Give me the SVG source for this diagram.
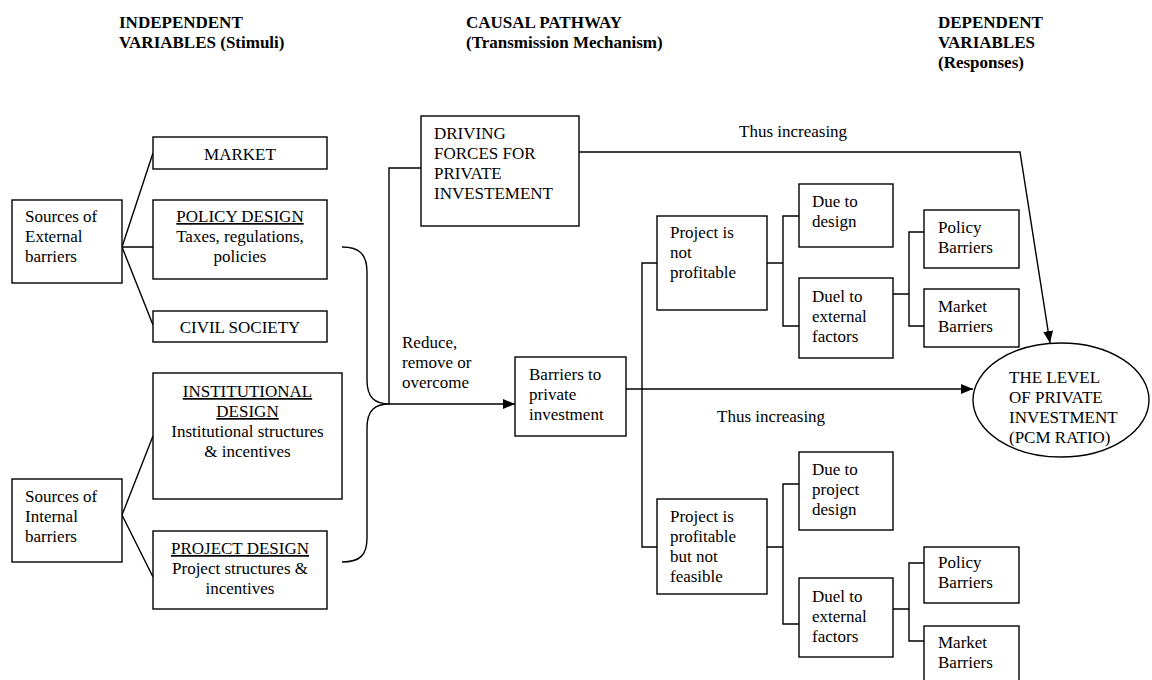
<svg xmlns="http://www.w3.org/2000/svg" width="1152" height="680" viewBox="0 0 1152 680">
<defs>
<style>
text{font-family:"Liberation Serif","Times New Roman",serif;font-size:17px;fill:#000}
.h{font-weight:bold}
.c{text-anchor:middle}
.u{text-decoration:underline}
.box{fill:#fff;stroke:#000;stroke-width:1.4}
.ln{fill:none;stroke:#000;stroke-width:1.4}
</style>
<marker id="ah" viewBox="0 0 12 10" refX="12" refY="5" markerWidth="12" markerHeight="10" markerUnits="userSpaceOnUse" orient="auto">
<path d="M0,0 L12,5 L0,10 Z" fill="#000"/>
</marker>
</defs>
<rect width="1152" height="680" fill="#fff"/>

<g id="headers">
<text class="h" x="119" y="28">INDEPENDENT</text>
<text class="h" x="119" y="48">VARIABLES (Stimuli)</text>
<text class="h" x="466" y="28">CAUSAL PATHWAY</text>
<text class="h" x="466" y="48">(Transmission Mechanism)</text>
<text class="h" x="938" y="28">DEPENDENT</text>
<text class="h" x="938" y="48">VARIABLES</text>
<text class="h" x="938" y="68">(Responses)</text>
</g>

<g id="connectors">
<path class="ln" d="M122,247 L153,153 M122,247 L153,247 M122,247 L153,325"/>
<path class="ln" d="M122,515 L153,436 M122,515 L153,577"/>
<path class="ln" d="M342,247 C360,247 367,255 367,272 L367,380 C367,398 375,404 390,404 C375,404 367,410 367,428 L367,538 C367,555 360,562 342,562"/>
<path class="ln" d="M389,404 L389,168 L421,168"/>
<path class="ln" d="M389,404 L515,404" marker-end="url(#ah)"/>
<path class="ln" d="M579,152 L1020,152 L1050,343" marker-end="url(#ah)"/>
<path class="ln" d="M626,389 L973,389" marker-end="url(#ah)"/>
<path class="ln" d="M657,263 L642,263 L642,547 L657,547"/>
<path class="ln" d="M767,263 L783,263 M799,216 L783,216 L783,326 L799,326"/>
<path class="ln" d="M893,294 L909,294 M924,232 L909,232 L909,326 L924,326"/>
<path class="ln" d="M767,547 L783,547 M799,484 L783,484 L783,624 L799,624"/>
<path class="ln" d="M893,609 L909,609 M924,563 L909,563 L909,641 L924,641"/>
<text x="739" y="137">Thus increasing</text>
<text x="717" y="422">Thus increasing</text>
<text x="402" y="348">Reduce,</text>
<text x="402" y="368">remove or</text>
<text x="402" y="388">overcome</text>
</g>

<g id="ext-sources">
<rect class="box" x="12" y="200" width="110" height="83"/>
<text x="25" y="222">Sources of</text>
<text x="25" y="242">External</text>
<text x="25" y="262">barriers</text>
</g>
<g id="market">
<rect class="box" x="153" y="137" width="174" height="32"/>
<text class="c" x="240" y="160">MARKET</text>
</g>
<g id="policy-design">
<rect class="box" x="153" y="200" width="174" height="79"/>
<text class="c u" x="240" y="222">POLICY DESIGN</text>
<text class="c" x="240" y="242">Taxes, regulations,</text>
<text class="c" x="240" y="262">policies</text>
</g>
<g id="civil-society">
<rect class="box" x="153" y="311" width="174" height="31"/>
<text class="c" x="240" y="333">CIVIL SOCIETY</text>
</g>
<g id="institutional-design">
<rect class="box" x="153" y="373" width="189" height="126"/>
<text class="c u" x="247.5" y="397">INSTITUTIONAL</text>
<text class="c u" x="247.5" y="417">DESIGN</text>
<text class="c" x="247.5" y="437">Institutional structures</text>
<text class="c" x="247.5" y="457">&amp; incentives</text>
</g>
<g id="int-sources">
<rect class="box" x="12" y="479" width="110" height="83"/>
<text x="25" y="502">Sources of</text>
<text x="25" y="522">Internal</text>
<text x="25" y="542">barriers</text>
</g>
<g id="project-design">
<rect class="box" x="153" y="531" width="174" height="78"/>
<text class="c u" x="240" y="554">PROJECT DESIGN</text>
<text class="c" x="240" y="574">Project structures &amp;</text>
<text class="c" x="240" y="594">incentives</text>
</g>
<g id="driving-forces">
<rect class="box" x="421" y="116" width="158" height="110"/>
<text x="434" y="139">DRIVING</text>
<text x="434" y="159">FORCES FOR</text>
<text x="434" y="179">PRIVATE</text>
<text x="434" y="199">INVESTEMENT</text>
</g>
<g id="barriers">
<rect class="box" x="515" y="357" width="111" height="79"/>
<text x="529" y="380">Barriers to</text>
<text x="529" y="400">private</text>
<text x="529" y="420">investment</text>
</g>
<g id="not-profitable">
<rect class="box" x="657" y="216" width="110" height="94"/>
<text x="670" y="238">Project is</text>
<text x="670" y="258">not</text>
<text x="670" y="278">profitable</text>
</g>
<g id="due-design">
<rect class="box" x="799" y="184" width="94" height="63"/>
<text x="812" y="207">Due to</text>
<text x="812" y="227">design</text>
</g>
<g id="duel-external-1">
<rect class="box" x="799" y="278" width="94" height="80"/>
<text x="812" y="302">Duel to</text>
<text x="812" y="322">external</text>
<text x="812" y="342">factors</text>
</g>
<g id="policy-barriers-1">
<rect class="box" x="924" y="210" width="95" height="58"/>
<text x="938" y="233">Policy</text>
<text x="938" y="253">Barriers</text>
</g>
<g id="market-barriers-1">
<rect class="box" x="924" y="289" width="95" height="58"/>
<text x="938" y="312">Market</text>
<text x="938" y="332">Barriers</text>
</g>
<g id="profitable-not-feasible">
<rect class="box" x="657" y="499" width="110" height="95"/>
<text x="670" y="522">Project is</text>
<text x="670" y="542">profitable</text>
<text x="670" y="562">but not</text>
<text x="670" y="582">feasible</text>
</g>
<g id="due-project-design">
<rect class="box" x="799" y="452" width="94" height="78"/>
<text x="812" y="475">Due to</text>
<text x="812" y="495">project</text>
<text x="812" y="515">design</text>
</g>
<g id="duel-external-2">
<rect class="box" x="799" y="578" width="94" height="79"/>
<text x="812" y="602">Duel to</text>
<text x="812" y="622">external</text>
<text x="812" y="642">factors</text>
</g>
<g id="policy-barriers-2">
<rect class="box" x="924" y="547" width="95" height="56"/>
<text x="938" y="568">Policy</text>
<text x="938" y="588">Barriers</text>
</g>
<g id="market-barriers-2">
<rect class="box" x="924" y="626" width="95" height="64"/>
<text x="938" y="648">Market</text>
<text x="938" y="668">Barriers</text>
</g>
<g id="level-private-investment">
<ellipse class="box" cx="1061" cy="400" rx="88" ry="57"/>
<text x="1009" y="383">THE LEVEL</text>
<text x="1009" y="403">OF PRIVATE</text>
<text x="1009" y="423">INVESTMENT</text>
<text x="1009" y="443">(PCM RATIO)</text>
</g>
</svg>
